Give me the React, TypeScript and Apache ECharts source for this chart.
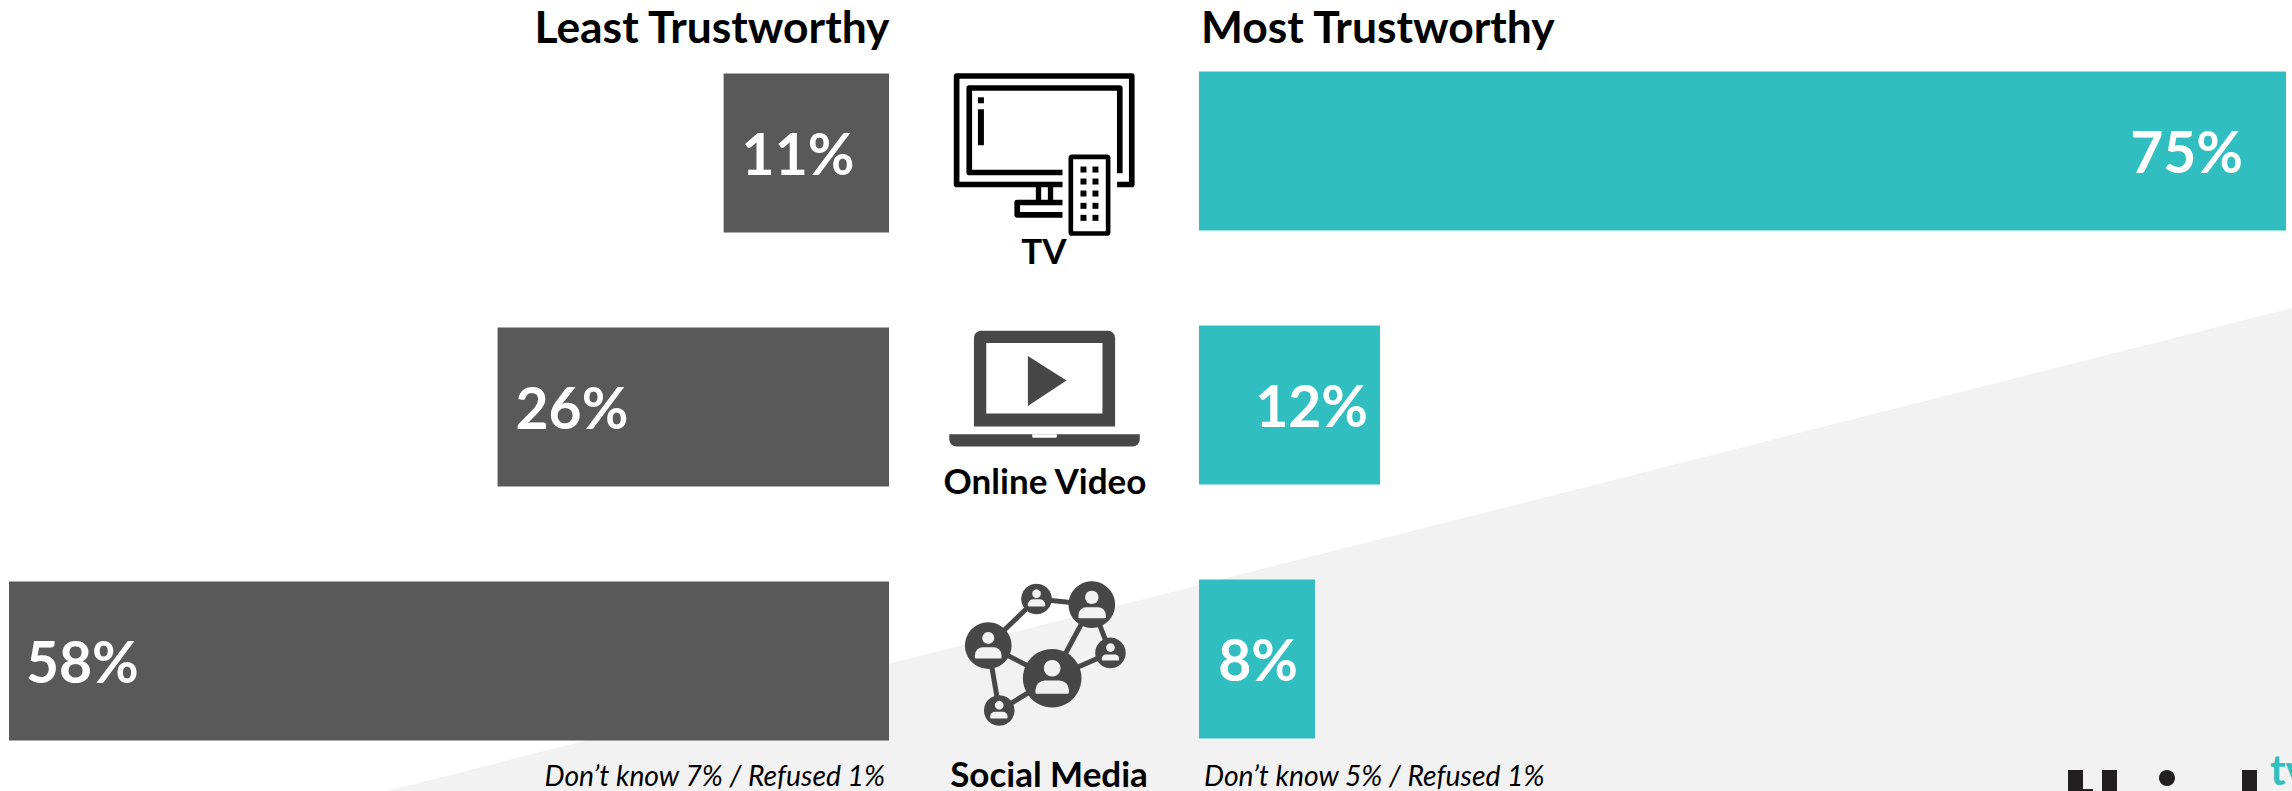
import React, { useEffect, useRef } from "react";
import * as echarts from "echarts";

const categories = ["TV", "Online Video", "Social Media"];
const leastTrustworthy = [10.9, 25.8, 58];
const mostTrustworthy = [75, 12.49, 8];
const leastTitle = "Least Trustworthy";
const mostTitle = "Most Trustworthy";
const leastNote = "Don\u2019t know 7% / Refused 1%";
const mostNote = "Don\u2019t know 5% / Refused 1%";
const logoAccent = "tv";

const TEAL = "#30BEC1";
const DARK = "#595959";
const ICON = "#474747";
const FONT = "Lato";

const pct = (p: any) => Math.round(p.value) + "%";

// All icon geometry is in 3x units relative to a local origin
function tvIcon() {
  const s = { stroke: "#000", lineWidth: 17, fill: "none", lineJoin: "round" };
  const children: any[] = [
    { type: "polyline", shape: { points: [[488, 404], [170, 404], [170, 78], [696, 78], [696, 404], [652, 404]] }, style: s },
    { type: "polyline", shape: { points: [[488, 368], [208, 368], [208, 114], [660, 114], [660, 370]] }, style: s },
    { type: "rect", shape: { x: 234, y: 142, width: 18, height: 18 }, style: { fill: "#000" } },
    { type: "rect", shape: { x: 234, y: 178, width: 18, height: 108 }, style: { fill: "#000" } },
    { type: "rect", shape: { x: 408, y: 410, width: 16, height: 42 }, style: { fill: "#000" } },
    { type: "rect", shape: { x: 444, y: 410, width: 16, height: 42 }, style: { fill: "#000" } },
    { type: "polyline", shape: { points: [[488, 458], [352, 458], [352, 495], [488, 495]] }, style: s },
    { type: "rect", shape: { x: 513, y: 321, width: 112, height: 230, r: 4 }, style: { stroke: "#000", lineWidth: 14, fill: "#fff" } },
  ];
  for (const y of [350, 386, 422, 459, 495]) {
    for (const x of [542, 578]) {
      children.push({ type: "rect", shape: { x, y, width: 18, height: 18 }, style: { fill: "#000" } });
    }
  }
  return { type: "group", x: 900, y: 50, scaleX: 1 / 3, scaleY: 1 / 3, children };
}

function laptopIcon() {
  const children: any[] = [
    { type: "rect", shape: { x: 222, y: 62, width: 424, height: 288, r: [22, 22, 0, 0] }, style: { fill: ICON } },
    { type: "rect", shape: { x: 259, y: 99, width: 349, height: 212 }, style: { fill: "#fff" } },
    { type: "polygon", shape: { points: [[384, 138], [500, 212], [384, 288]] }, style: { fill: ICON } },
    { type: "rect", shape: { x: 148, y: 373, width: 572, height: 37, r: [0, 0, 22, 22] }, style: { fill: ICON } },
    { type: "rect", shape: { x: 397, y: 373, width: 74, height: 11, r: [0, 0, 4, 4] }, style: { fill: "#fff" } },
  ];
  return { type: "group", x: 900, y: 310, scaleX: 1 / 3, scaleY: 1 / 3, children };
}

function socialIcon() {
  const nodes: Record<string, number[]> = {
    A: [265, 257, 70, 234, 18, 225, 262, 80, 34],
    B: [410, 117, 46, 101, 13, 384, 118, 52, 22],
    C: [576, 134, 70, 112, 20, 536, 142, 82, 33],
    D: [632, 279, 46, 263, 13, 606, 284, 52, 18],
    E: [457, 355, 88, 325, 25, 407, 362, 100, 40],
    F: [298, 452, 46, 436, 13, 271, 456, 52, 20],
  };
  const links = ["AB", "BC", "CE", "CD", "DE", "AE", "AF", "FE"];
  const children: any[] = links.map((l) => ({
    type: "line",
    shape: { x1: nodes[l[0]][0], y1: nodes[l[0]][1], x2: nodes[l[1]][0], y2: nodes[l[1]][1] },
    style: { stroke: ICON, lineWidth: 15 },
  }));
  for (const k of Object.keys(nodes)) {
    const [cx, cy, r, hy, hr, bx, by, bw, bh] = nodes[k];
    children.push({ type: "circle", shape: { cx, cy, r }, style: { fill: ICON } });
    children.push({ type: "circle", shape: { cx, cy: hy, r: hr }, style: { fill: "#f2f2f2" } });
    children.push({ type: "rect", shape: { x: bx, y: by, width: bw, height: bh, r: [bh * 0.7, bh * 0.7, 3, 3] }, style: { fill: "#f2f2f2" } });
  }
  return { type: "group", x: 900, y: 560, scaleX: 1 / 3, scaleY: 1 / 3, children };
}

function label(x: number, y: number, text: string, size: number, align: string, weight: any = "bold", italic = false) {
  return {
    type: "text",
    x,
    y,
    style: {
      text,
      fill: "#000",
      font: `${italic ? "italic " : ""}${weight} ${size}px ${FONT}`,
      textAlign: align,
      textVerticalAlign: "bottom",
    },
  };
}

function logo() {
  const black = "#231F20";
  const rects = [
    [2068, 770, 15, 21],
    [2083, 789, 10, 2],
    [2102, 770, 15, 21],
    [2242, 770, 15, 21],
  ];
  return [
    ...rects.map(([x, y, width, height]) => ({ type: "rect", shape: { x, y, width, height }, style: { fill: black } })),
    { type: "circle", shape: { cx: 2167, cy: 778, r: 8 }, style: { fill: black } },
    { type: "text", x: 2270, y: 790, style: { text: logoAccent, fill: TEAL, font: `bold 42px ${FONT}`, textAlign: "left", textVerticalAlign: "bottom" } },
  ];
}

export default function App() {
  const ref = useRef<HTMLDivElement>(null);
  useEffect(() => {
    document.body.style.margin = "0";
    const chart = echarts.init(ref.current!, undefined, { renderer: "svg" });
    const leastOffsets = [18, 18, 17];
    const mostOffsets = [43, 12, 17];
    chart.setOption({
      animation: false,
      backgroundColor: "#fff",
      grid: [
        { left: 9, top: 26, width: 880, height: 762 },
        { left: 1199, top: 24, width: 1087, height: 762 },
      ],
      xAxis: [
        { type: "value", gridIndex: 0, inverse: true, min: 0, max: 58, show: false },
        { type: "value", gridIndex: 1, min: 0, max: 75, show: false },
      ],
      yAxis: [
        { type: "category", gridIndex: 0, inverse: true, data: categories, show: false },
        { type: "category", gridIndex: 1, inverse: true, data: categories, show: false },
      ],
      series: [
        {
          type: "bar",
          name: leastTitle,
          xAxisIndex: 0,
          yAxisIndex: 0,
          barWidth: 159,
          itemStyle: { color: DARK },
          data: leastTrustworthy.map((value, i) => ({
            value,
            label: { show: true, position: "insideLeft", distance: leastOffsets[i], formatter: pct, color: "#fff", fontFamily: FONT, fontWeight: "bold", fontSize: 57 },
          })),
        },
        {
          type: "bar",
          name: mostTitle,
          xAxisIndex: 1,
          yAxisIndex: 1,
          barWidth: 159,
          itemStyle: { color: TEAL },
          data: mostTrustworthy.map((value, i) => ({
            value,
            label: { show: true, position: "insideRight", distance: mostOffsets[i], formatter: pct, color: "#fff", fontFamily: FONT, fontWeight: "bold", fontSize: 57 },
          })),
        },
      ],
      graphic: [
        { type: "polygon", z: -1, shape: { points: [[2292, 308], [2292, 791], [387, 791]] }, style: { fill: "#F2F2F2" } },
        tvIcon(),
        laptopIcon(),
        socialIcon(),
        label(889.5, 47, leastTitle, 44.4, "right"),
        label(1201, 47, mostTitle, 44.4, "left"),
        label(1044, 267, categories[0], 35, "center"),
        label(1045, 497, categories[1], 35, "center"),
        label(1049, 790, categories[2], 35, "center"),
        label(885, 789, leastNote, 28.3, "right", "normal", true),
        label(1204, 789, mostNote, 28.3, "left", "normal", true),
        ...logo(),
      ],
    });
    return () => chart.dispose();
  }, []);
  return <div ref={ref} style={{ width: 2292, height: 791, overflow: "hidden" }} />;
}
